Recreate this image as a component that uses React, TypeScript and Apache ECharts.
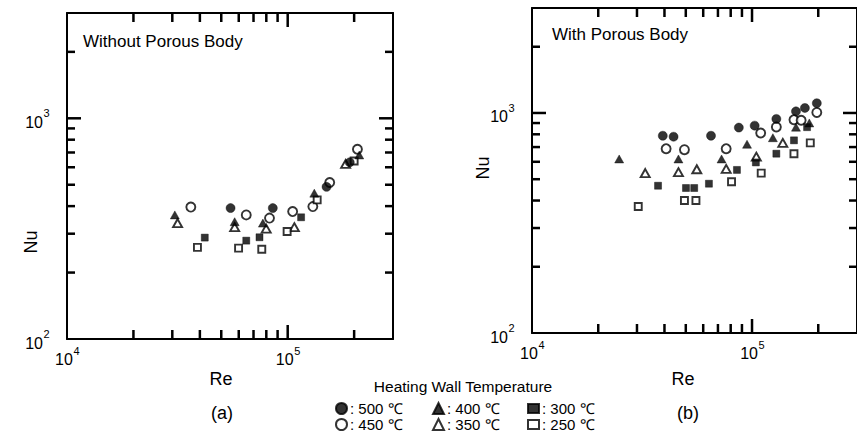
import React, { useEffect, useRef } from "react";
import * as echarts from "echarts";

// ---------- data ----------
const temperatures = ["500 ℃", "450 ℃", "400 ℃", "350 ℃", "300 ℃", "250 ℃"];

// Panel (a): Without Porous Body  [Re, Nu]
const a500 = [[5.51e4, 392], [8.56e4, 392], [1.50e5, 489], [1.91e5, 632]];
const a450 = [[3.64e4, 396], [6.49e4, 365], [8.27e4, 353], [1.053e5, 378], [1.30e5, 398], [1.55e5, 512], [2.07e5, 724]];
const a400 = [[3.08e4, 365], [5.75e4, 340], [7.72e4, 335], [1.32e5, 458], [2.11e5, 682]];
const a350 = [[3.17e4, 335], [5.75e4, 321], [7.99e4, 316], [1.072e5, 321], [1.83e5, 621]];
const a300 = [[4.21e4, 288], [6.49e4, 279], [7.45e4, 289], [1.15e5, 356]];
const a250 = [[3.90e4, 260], [5.99e4, 258], [7.63e4, 255], [9.94e4, 307], [1.36e5, 427], [2.00e5, 641]];

// Panel (b): With Porous Body  [Re, Nu]
const b500 = [[3.93e4, 788], [4.40e4, 780], [6.51e4, 788], [8.71e4, 858], [1.028e5, 876], [1.29e5, 940], [1.584e5, 1017], [1.739e5, 1054], [1.97e5, 1108]];
const b450 = [[4.07e4, 688], [4.93e4, 681], [7.63e4, 688], [1.095e5, 811], [1.29e5, 864], [1.551e5, 932], [1.672e5, 927], [1.97e5, 1006]];
const b400 = [[2.49e4, 618], [4.63e4, 618], [7.27e4, 618], [9.49e4, 721], [1.244e5, 772], [1.584e5, 862], [1.821e5, 901]];
const b350 = [[3.27e4, 533], [4.63e4, 538], [5.61e4, 555], [7.63e4, 557], [1.046e5, 633], [1.38e5, 731]];
const b300 = [[3.74e4, 467], [5.01e4, 456], [5.46e4, 456], [6.37e4, 477], [8.54e4, 551], [1.041e5, 596], [1.29e5, 653], [1.551e5, 751], [1.779e5, 862]];
const b250 = [[3.04e4, 376], [4.93e4, 400], [5.56e4, 400], [8.07e4, 487], [1.101e5, 533], [1.551e5, 653], [1.84e5, 731]];

// axes
const xRange = [1e4, 3e5];
const yRange = [100, 3000];
const xMinorTicks = [2e4, 3e4, 4e4, 5e4, 6e4, 7e4, 8e4, 9e4, 2e5];
const xMajorTicks = [1e5];
const yMinorTicks = [200, 300, 400, 500, 600, 700, 800, 900, 2000];
const yMajorTicks = [1000];
const xTickLabels = [1e4, 1e5];
const yTickLabels = [100, 1000];

const panelTitles = ["Without Porous Body", "With Porous Body"];
const panelLetters = ["(a)", "(b)"];
const xAxisName = "Re";
const yAxisName = "Nu";
const legendTitle = "Heating Wall Temperature";

// ---------- styles ----------
const FONT = '"Liberation Sans", Arial, Helvetica, sans-serif';
const INK = "#000000";

const symbolDefs = [
  { symbol: "circle", filled: true, size: 9 },
  { symbol: "circle", filled: false, size: 9 },
  { symbol: "triangle", filled: true, size: [9, 8] },
  { symbol: "triangle", filled: false, size: [9, 8] },
  { symbol: "rect", filled: true, size: 7 },
  { symbol: "rect", filled: false, size: 7 },
];

const grids = [
  { left: 67, top: 13, width: 326, height: 326 },
  { left: 532, top: 8, width: 326, height: 325 },
];

function itemStyleFor(filled: boolean) {
  return filled
    ? { color: INK, borderColor: INK, borderWidth: 0.5 }
    : { color: "#ffffff", borderColor: INK, borderWidth: 1.9 };
}

const TW = 2.5; // tick thickness
const X_MINOR = 9;
const Y_MINOR = 8;
const MAJOR = 14;

function textEl(text: string, x: number, y: number, size: number, align: string) {
  return {
    type: "text", x, y,
    style: { text, fill: INK, fontSize: size, fontFamily: FONT, align, verticalAlign: "middle" },
  };
}

function labelRender(params: any, api: any) {
  const kind = api.value(2);
  const cs = params.coordSys;
  const left = cs.x;
  const bottom = cs.y + cs.height;
  const p = api.coord([api.value(0), api.value(1)]);
  if (kind === 0) {
    const exp = Math.round(Math.log10(api.value(0)));
    return {
      type: "group",
      children: [
        textEl("10", p[0] - 3, bottom + 20, 16, "center"),
        textEl(String(exp), p[0] + 6.5, bottom + 12, 11, "left"),
      ],
    };
  }
  const expY = Math.round(Math.log10(api.value(1)));
  return {
    type: "group",
    children: [
      textEl("10", left - 24, p[1] + 4, 16, "right"),
      textEl(String(expY), left - 23.5, p[1] - 5, 11, "left"),
    ],
  };
}

// side: 0 bottom, 1 top, 2 left, 3 right ; value(3) = length
function tickRender(params: any, api: any) {
  const side = api.value(2);
  const len = api.value(3);
  const p = api.coord([api.value(0), api.value(1)]);
  let shape;
  if (side === 0) shape = { x: p[0] - TW / 2, y: p[1] - len, width: TW, height: len };
  else if (side === 1) shape = { x: p[0] - TW / 2, y: p[1], width: TW, height: len };
  else if (side === 2) shape = { x: p[0], y: p[1] - TW / 2, width: len, height: TW };
  else shape = { x: p[0] - len, y: p[1] - TW / 2, width: len, height: TW };
  return { type: "rect", shape, style: { fill: INK } };
}

function buildOption() {
  const panelData = [
    [a500, a450, a400, a350, a300, a250],
    [b500, b450, b400, b350, b300, b250],
  ];
  const xAxes: any[] = [];
  const yAxes: any[] = [];
  const series: any[] = [];
  const tickData = [
    ...xMinorTicks.map((v) => [v, yRange[0], 0, X_MINOR]),
    ...xMinorTicks.map((v) => [v, yRange[1], 1, X_MINOR]),
    ...xMajorTicks.map((v) => [v, yRange[0], 0, MAJOR]),
    ...xMajorTicks.map((v) => [v, yRange[1], 1, MAJOR]),
    ...yMinorTicks.map((v) => [xRange[0], v, 2, Y_MINOR]),
    ...yMinorTicks.map((v) => [xRange[1], v, 3, Y_MINOR]),
    ...yMajorTicks.map((v) => [xRange[0], v, 2, MAJOR]),
    ...yMajorTicks.map((v) => [xRange[1], v, 3, MAJOR]),
  ];
  grids.forEach((g, i) => {
    ["bottom", "top"].forEach((pos) => {
      xAxes.push({
        gridIndex: i, type: "log", logBase: 10, min: xRange[0], max: xRange[1], position: pos,
        axisLine: { show: true, onZero: false, lineStyle: { color: INK, width: 2 } },
        axisTick: { show: false }, axisLabel: { show: false }, splitLine: { show: false },
      });
    });
    ["left", "right"].forEach((pos) => {
      yAxes.push({
        gridIndex: i, type: "log", logBase: 10, min: yRange[0], max: yRange[1], position: pos,
        axisLine: { show: true, onZero: false, lineStyle: { color: INK, width: 2 } },
        axisTick: { show: false }, axisLabel: { show: false }, splitLine: { show: false },
      });
    });
    series.push({
      type: "custom", name: "ticks" + i, xAxisIndex: i * 2, yAxisIndex: i * 2,
      clip: false, z: 10, data: tickData, renderItem: tickRender,
    });
    const labelData = [
      ...xTickLabels.map((v) => [v, 1000, 0]),
      ...yTickLabels.map((v) => [1e5, v, 1]),
    ];
    series.push({
      type: "custom", name: "labels" + i, xAxisIndex: i * 2, yAxisIndex: i * 2,
      silent: true, clip: false,
      data: labelData, renderItem: labelRender,
    });
    panelData[i].forEach((pts, k) => {
      const d = symbolDefs[k];
      series.push({
        type: "scatter", name: temperatures[k], xAxisIndex: i * 2, yAxisIndex: i * 2,
        symbol: d.symbol, symbolSize: d.size, data: pts,
        itemStyle: itemStyleFor(d.filled), z: d.filled ? 3 : 2,
      });
    });
  });

  const legendPos = [
    { left: 335, top: 401 }, { left: 335, top: 417 },
    { left: 432, top: 401 }, { left: 432, top: 417 },
    { left: 527, top: 401 }, { left: 527, top: 417 },
  ];
  const legends = temperatures.map((t, k) => ({
    data: [t], left: legendPos[k].left, top: legendPos[k].top, selectedMode: false,
    itemWidth: 11, itemHeight: symbolDefs[k].symbol === "rect" ? 9 : 11, itemGap: 0, padding: 0,
    formatter: ": {name}",
    textStyle: { fontFamily: FONT, fontSize: 15, color: INK, padding: [0, 0, 0, -2] },
  }));

  const txt = (text: string, x: number, y: number, size: number, extra: any = {}) => ({
    type: "text", x, y, silent: true, ...extra,
    style: { text, fill: INK, fontSize: size, fontFamily: FONT, align: extra.align || "center", verticalAlign: "middle" },
  });

  const graphic = [
    txt(panelTitles[0], 83, 41, 17, { align: "left" }),
    txt(panelTitles[1], 552, 34, 17, { align: "left" }),
    txt(yAxisName, 31, 242, 18, { rotation: Math.PI / 2 }),
    txt(yAxisName, 483, 168, 18, { rotation: Math.PI / 2 }),
    txt(xAxisName, 221, 379, 18),
    txt(xAxisName, 683, 379, 18),
    txt(panelLetters[0], 222, 413, 18),
    txt(panelLetters[1], 688, 413, 18),
    txt(legendTitle, 463, 386, 15.5),
  ];

  return {
    animation: false,
    backgroundColor: "#ffffff",
    grid: grids.map((g) => ({ ...g })),
    xAxis: xAxes,
    yAxis: yAxes,
    legend: legends,
    series,
    graphic,
  };
}

export default function App() {
  const ref = useRef<HTMLDivElement>(null);
  useEffect(() => {
    if (!ref.current) return;
    const chart = echarts.init(ref.current, null, { renderer: "svg" });
    chart.setOption(buildOption() as any);
    return () => chart.dispose();
  }, []);
  return (
    <div
      ref={ref}
      style={{ position: "absolute", left: 0, top: 0, width: 857, height: 443 }}
    />
  );
}
